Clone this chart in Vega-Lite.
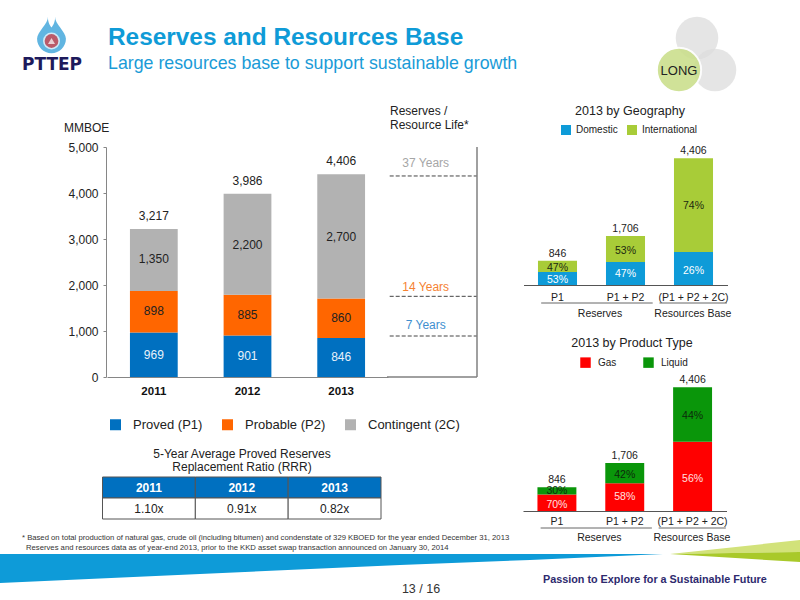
{
"$schema":"https://vega.github.io/schema/vega-lite/v6.json",
"padding":0,
"autosize":{"type":"none"},
"background":"white",
"width":800,"height":600,
"config":{"view":{"stroke":null},"font":"Liberation Sans","text":{"font":"Liberation Sans"},"axis":{"labelFont":"Liberation Sans","titleFont":"Liberation Sans"},"legend":{"labelFont":"Liberation Sans"}},
"datasets":{
"reserves":[
{"year":"2011","stage":"Proved (P1)","ord":1,"value":969,"labelAt":476},
{"year":"2011","stage":"Probable (P2)","ord":2,"value":898,"labelAt":1429},
{"year":"2011","stage":"Contingent (2C)","ord":3,"value":1350,"labelAt":2576},
{"year":"2012","stage":"Proved (P1)","ord":1,"value":901,"labelAt":455},
{"year":"2012","stage":"Probable (P2)","ord":2,"value":885,"labelAt":1342},
{"year":"2012","stage":"Contingent (2C)","ord":3,"value":2200,"labelAt":2879},
{"year":"2013","stage":"Proved (P1)","ord":1,"value":846,"labelAt":433},
{"year":"2013","stage":"Probable (P2)","ord":2,"value":860,"labelAt":1277},
{"year":"2013","stage":"Contingent (2C)","ord":3,"value":2700,"labelAt":3052}],
"reserveTotals":[{"year":"2011","total":3217},{"year":"2012","total":3986},{"year":"2013","total":4406}],
"lifeYears":[{"label":"37 Years","level":4370,"labelAt":4652},{"label":"14 Years","level":1754,"labelAt":1957},{"label":"7 Years","level":891,"labelAt":1130}],
"geo":[
{"cat":"P1","type":"Domestic","ord":1,"value":448,"pct":"53%","labelAt":174},
{"cat":"P1","type":"International","ord":2,"value":398,"pct":"47%","labelAt":603},
{"cat":"P1 + P2","type":"Domestic","ord":1,"value":802,"pct":"47%","labelAt":371},
{"cat":"P1 + P2","type":"International","ord":2,"value":904,"pct":"53%","labelAt":1194},
{"cat":"(P1 + P2 + 2C)","type":"Domestic","ord":1,"value":1146,"pct":"26%","labelAt":475},
{"cat":"(P1 + P2 + 2C)","type":"International","ord":2,"value":3260,"pct":"74%","labelAt":2760}],
"prod":[
{"cat":"P1","type":"Gas","ord":1,"value":592,"pct":"70%","labelAt":213},
{"cat":"P1","type":"Liquid","ord":2,"value":254,"pct":"30%","labelAt":698},
{"cat":"P1 + P2","type":"Gas","ord":1,"value":989,"pct":"58%","labelAt":486},
{"cat":"P1 + P2","type":"Liquid","ord":2,"value":717,"pct":"42%","labelAt":1278},
{"cat":"(P1 + P2 + 2C)","type":"Gas","ord":1,"value":2467,"pct":"56%","labelAt":1136},
{"cat":"(P1 + P2 + 2C)","type":"Liquid","ord":2,"value":1939,"pct":"44%","labelAt":3372}],
"totals":[{"cat":"P1","total":846},{"cat":"P1 + P2","total":1706},{"cat":"(P1 + P2 + 2C)","total":4406}],
"groups":[{"group":"Reserves","from":0.26,"to":1.9,"mid":1.125},{"group":"Resources Base","from":2.0,"to":2.99,"mid":2.49}],
"rrr":[
{"year":"2011","row":"head","label":"2011"},{"year":"2012","row":"head","label":"2012"},{"year":"2013","row":"head","label":"2013"},
{"year":"2011","row":"rrr","label":"1.10x"},{"year":"2012","row":"rrr","label":"0.91x"},{"year":"2013","row":"rrr","label":"0.82x"}],
"swoosh":[
{"band":"blue","x":0,"top":554,"bottom":583},{"band":"blue","x":200,"top":554,"bottom":574},{"band":"blue","x":400,"top":554,"bottom":565},{"band":"blue","x":530,"top":554,"bottom":560},{"band":"blue","x":663,"top":554,"bottom":554},
{"band":"light","x":670,"top":554,"bottom":554},{"band":"light","x":800,"top":540,"bottom":552},
{"band":"dark","x":670,"top":554,"bottom":554},{"band":"dark","x":800,"top":552,"bottom":562}],
"bubbles":[{"bubble":"top","x":697,"y":38},{"bubble":"right","x":715,"y":70}]
},
"layer":[
{"data":{"name":"swoosh"},"mark":{"type":"area","orient":"vertical"},"encoding":{
"x":{"field":"x","type":"quantitative","scale":{"domain":[0,800],"range":[0,800],"nice":false},"axis":null},
"y":{"field":"top","type":"quantitative","scale":{"domain":[0,600],"range":[0,600],"nice":false},"axis":null},
"y2":{"field":"bottom"},
"color":{"field":"band","type":"nominal","scale":{"domain":["blue","light","dark"],"range":["#0e9bd8","#d2e27a","#a9c92a"]},"legend":null}}},
{"data":{"name":"bubbles"},"mark":{"type":"point","filled":true,"size":1810,"opacity":0.75,"color":"#dcdcdc"},"encoding":{"x":{"field":"x","type":"quantitative","scale":{"domain":[0,800],"range":[0,800],"nice":false},"axis":null},"y":{"field":"y","type":"quantitative","scale":{"domain":[0,600],"range":[0,600],"nice":false},"axis":null}}},
{"data":{"values":[{}]},"mark":{"type":"point","filled":true,"size":1963,"opacity":0.9,"color":"#cbdf8d","stroke":"white","strokeWidth":2},"encoding":{"x":{"datum":679,"type":"quantitative","scale":{"domain":[0,800],"range":[0,800],"nice":false},"axis":null},"y":{"datum":70,"type":"quantitative","scale":{"domain":[0,600],"range":[0,600],"nice":false},"axis":null}}},
{"data":{"values":[{}]},"mark":{"type":"text","text":"LONG","fontSize":13,"color":"#222222"},"encoding":{"x":{"datum":679,"type":"quantitative","scale":{"domain":[0,800],"range":[0,800],"nice":false},"axis":null},"y":{"datum":71,"type":"quantitative","scale":{"domain":[0,600],"range":[0,600],"nice":false},"axis":null}}},
{"data":{"values":[{}]},"mark":{"type":"text","text":"Reserves and Resources Base","fontSize":24.4,"fontWeight":"bold","color":"#0f9bd7","align":"left","baseline":"alphabetic"},"encoding":{"x":{"datum":108,"type":"quantitative","scale":{"domain":[0,800],"range":[0,800],"nice":false},"axis":null},"y":{"datum":45,"type":"quantitative","scale":{"domain":[0,600],"range":[0,600],"nice":false},"axis":null}}},
{"data":{"values":[{}]},"mark":{"type":"text","text":"Large resources base to support sustainable growth","fontSize":17.8,"color":"#1a9bd7","align":"left","baseline":"alphabetic"},"encoding":{"x":{"datum":108,"type":"quantitative","scale":{"domain":[0,800],"range":[0,800],"nice":false},"axis":null},"y":{"datum":69,"type":"quantitative","scale":{"domain":[0,600],"range":[0,600],"nice":false},"axis":null}}},
{"data":{"values":[{}]},"mark":{"type":"point","filled":true,"size":1370,"color":"#1e96d4","shape":"M-0.2,-1 C-0.15,-0.6 -0.78,-0.2 -0.78,0.2 A0.78,0.78 0 1 0 0.78,0.2 C0.78,-0.2 0.15,-0.6 0.2,-1 C0.2,-0.7 0.08,-0.5 0,-0.4 C-0.08,-0.5 -0.2,-0.7 -0.2,-1 Z"},"encoding":{"x":{"datum":51.5,"type":"quantitative","scale":{"domain":[0,800],"range":[0,800],"nice":false},"axis":null},"y":{"datum":35,"type":"quantitative","scale":{"domain":[0,600],"range":[0,600],"nice":false},"axis":null}}},
{"data":{"values":[{}]},"mark":{"type":"point","filled":true,"size":290,"color":"#ffffff","shape":"circle"},"encoding":{"x":{"datum":51.5,"type":"quantitative","scale":{"domain":[0,800],"range":[0,800],"nice":false},"axis":null},"y":{"datum":41,"type":"quantitative","scale":{"domain":[0,600],"range":[0,600],"nice":false},"axis":null}}},
{"data":{"values":[{}]},"mark":{"type":"point","filled":true,"size":190,"color":"#b01c2e","shape":"circle"},"encoding":{"x":{"datum":51.5,"type":"quantitative","scale":{"domain":[0,800],"range":[0,800],"nice":false},"axis":null},"y":{"datum":41,"type":"quantitative","scale":{"domain":[0,600],"range":[0,600],"nice":false},"axis":null}}},
{"data":{"values":[{}]},"mark":{"type":"point","filled":true,"size":50,"color":"#ffffff","shape":"triangle-up"},"encoding":{"x":{"datum":51.5,"type":"quantitative","scale":{"domain":[0,800],"range":[0,800],"nice":false},"axis":null},"y":{"datum":41,"type":"quantitative","scale":{"domain":[0,600],"range":[0,600],"nice":false},"axis":null}}},
{"data":{"values":[{}]},"mark":{"type":"text","text":"PTTEP","fontSize":17,"fontWeight":"bold","font":"DejaVu Sans","color":"#1d1a5c"},"encoding":{"x":{"datum":52,"type":"quantitative","scale":{"domain":[0,800],"range":[0,800],"nice":false},"axis":null},"y":{"datum":65,"type":"quantitative","scale":{"domain":[0,600],"range":[0,600],"nice":false},"axis":null}}},
{"data":{"values":[{}]},"mark":{"type":"text","text":"MMBOE","fontSize":12,"color":"#222222","align":"left"},"encoding":{"x":{"datum":64,"type":"quantitative","scale":{"domain":[0,800],"range":[0,800],"nice":false},"axis":null},"y":{"datum":128,"type":"quantitative","scale":{"domain":[0,600],"range":[0,600],"nice":false},"axis":null}}},
{"data":{"values":[{}]},"mark":{"type":"text","text":"Reserves /","fontSize":12,"color":"#222222","align":"left"},"encoding":{"x":{"datum":390,"type":"quantitative","scale":{"domain":[0,800],"range":[0,800],"nice":false},"axis":null},"y":{"datum":111,"type":"quantitative","scale":{"domain":[0,600],"range":[0,600],"nice":false},"axis":null}}},
{"data":{"values":[{}]},"mark":{"type":"text","text":"Resource Life*","fontSize":12,"color":"#222222","align":"left"},"encoding":{"x":{"datum":390,"type":"quantitative","scale":{"domain":[0,800],"range":[0,800],"nice":false},"axis":null},"y":{"datum":125,"type":"quantitative","scale":{"domain":[0,600],"range":[0,600],"nice":false},"axis":null}}},
{"data":{"values":[{}]},"mark":{"type":"text","text":"2013 by Geography","fontSize":12.5,"color":"#222222"},"encoding":{"x":{"datum":630,"type":"quantitative","scale":{"domain":[0,800],"range":[0,800],"nice":false},"axis":null},"y":{"datum":111,"type":"quantitative","scale":{"domain":[0,600],"range":[0,600],"nice":false},"axis":null}}},
{"data":{"values":[{}]},"mark":{"type":"text","text":"2013 by Product Type","fontSize":12.5,"color":"#222222"},"encoding":{"x":{"datum":632,"type":"quantitative","scale":{"domain":[0,800],"range":[0,800],"nice":false},"axis":null},"y":{"datum":343,"type":"quantitative","scale":{"domain":[0,600],"range":[0,600],"nice":false},"axis":null}}},
{"data":{"values":[{}]},"mark":{"type":"text","text":"5-Year Average Proved Reserves","fontSize":12,"color":"#222222"},"encoding":{"x":{"datum":242,"type":"quantitative","scale":{"domain":[0,800],"range":[0,800],"nice":false},"axis":null},"y":{"datum":454,"type":"quantitative","scale":{"domain":[0,600],"range":[0,600],"nice":false},"axis":null}}},
{"data":{"values":[{}]},"mark":{"type":"text","text":"Replacement Ratio (RRR)","fontSize":12,"color":"#222222"},"encoding":{"x":{"datum":242,"type":"quantitative","scale":{"domain":[0,800],"range":[0,800],"nice":false},"axis":null},"y":{"datum":467,"type":"quantitative","scale":{"domain":[0,600],"range":[0,600],"nice":false},"axis":null}}},
{"data":{"values":[{}]},"mark":{"type":"text","text":"* Based on total production of natural gas, crude oil (including bitumen) and condenstate of 329 KBOED for the year ended December 31, 2013","fontSize":7.7,"align":"left","color":"#333333"},"encoding":{"x":{"datum":22,"type":"quantitative","scale":{"domain":[0,800],"range":[0,800],"nice":false},"axis":null},"y":{"datum":538,"type":"quantitative","scale":{"domain":[0,600],"range":[0,600],"nice":false},"axis":null}}},
{"data":{"values":[{}]},"mark":{"type":"text","text":"Reserves and resources data as of year-end 2013, prior to the KKD asset swap transaction announced on January 30, 2014","fontSize":7.7,"align":"left","color":"#333333"},"encoding":{"x":{"datum":26,"type":"quantitative","scale":{"domain":[0,800],"range":[0,800],"nice":false},"axis":null},"y":{"datum":548,"type":"quantitative","scale":{"domain":[0,600],"range":[0,600],"nice":false},"axis":null}}},
{"data":{"values":[{}]},"mark":{"type":"text","text":"13 / 16","fontSize":12.5,"color":"#333333"},"encoding":{"x":{"datum":421,"type":"quantitative","scale":{"domain":[0,800],"range":[0,800],"nice":false},"axis":null},"y":{"datum":589,"type":"quantitative","scale":{"domain":[0,600],"range":[0,600],"nice":false},"axis":null}}},
{"data":{"values":[{}]},"mark":{"type":"text","text":"Passion to Explore for a Sustainable Future","fontSize":10.8,"fontWeight":"bold","color":"#2e2a6e","align":"left"},"encoding":{"x":{"datum":543,"type":"quantitative","scale":{"domain":[0,800],"range":[0,800],"nice":false},"axis":null},"y":{"datum":580,"type":"quantitative","scale":{"domain":[0,600],"range":[0,600],"nice":false},"axis":null}}},

{"data":{"name":"reserves"},"mark":{"type":"bar"},"encoding":{
"x":{"field":"year","type":"nominal","scale":{"range":[107,388],"paddingInner":0.49,"paddingOuter":0.245},"axis":{"orient":"bottom","offset":-223,"title":null,"labelAngle":0,"labelFontWeight":"bold","labelFontSize":11.5,"labelColor":"#111111","ticks":false,"domainColor":"#868686","labelPadding":8}},
"y":{"field":"value","type":"quantitative","stack":"zero","scale":{"domain":[0,5000],"range":[377,147],"nice":false},"axis":{"orient":"left","offset":-106,"values":[0,1000,2000,3000,4000,5000],"format":",d","grid":false,"labelFontSize":12,"labelColor":"#222222","domainColor":"#868686","tickColor":"#868686","tickSize":3,"labelPadding":5,"title":null}},
"color":{"field":"stage","type":"nominal","scale":{"domain":["Proved (P1)","Probable (P2)","Contingent (2C)"],"range":["#0070c0","#ff6600","#b2b2b2"]},"legend":{"orient":"none","legendX":109,"legendY":418,"direction":"horizontal","columns":3,"title":null,"symbolType":"square","symbolSize":121,"symbolStrokeWidth":0,"labelFontSize":13,"labelColor":"#222222","labelOffset":11,"columnPadding":18}},
"order":{"field":"ord","type":"quantitative"}}},
{"data":{"name":"reserves"},"mark":{"type":"text","fontSize":12},"encoding":{
"x":{"field":"year","type":"nominal","scale":{"range":[107,388],"paddingInner":0.49,"paddingOuter":0.245},"axis":null},
"y":{"field":"labelAt","type":"quantitative","stack":null,"scale":{"domain":[0,5000],"range":[377,147],"nice":false},"axis":null},
"text":{"field":"value","type":"quantitative","format":","},
"color":{"field":"stage","type":"nominal","scale":{"domain":["Proved (P1)","Probable (P2)","Contingent (2C)"],"range":["#e8f2fa","#222222","#222222"]},"legend":null}}},
{"data":{"name":"reserveTotals"},"mark":{"type":"text","fontSize":12,"dy":-13,"color":"#222222"},"encoding":{
"x":{"field":"year","type":"nominal","scale":{"range":[107,388],"paddingInner":0.49,"paddingOuter":0.245},"axis":null},
"y":{"field":"total","type":"quantitative","scale":{"domain":[0,5000],"range":[377,147],"nice":false},"axis":null},
"text":{"field":"total","type":"quantitative","format":","}}},
{"data":{"name":"lifeYears"},"mark":{"type":"rule","color":"#444444","strokeDash":[4,2],"strokeWidth":1},"encoding":{
"x":{"datum":0.03,"type":"quantitative","scale":{"domain":[0,1],"range":[387,477],"nice":false},"axis":null},
"x2":{"datum":1},
"y":{"field":"level","type":"quantitative","scale":{"domain":[0,5000],"range":[377,147],"nice":false},"axis":null}}},
{"data":{"values":[{}]},"mark":{"type":"rule","color":"#808080","strokeWidth":1.5},"encoding":{
"x":{"datum":1,"type":"quantitative","scale":{"domain":[0,1],"range":[387,477],"nice":false},"axis":null},
"y":{"datum":0,"type":"quantitative","scale":{"domain":[0,5000],"range":[377,147],"nice":false},"axis":null},"y2":{"datum":5000}}},
{"data":{"values":[{}]},"mark":{"type":"rule","color":"#808080","strokeWidth":1.5},"encoding":{
"x":{"datum":0,"type":"quantitative","scale":{"domain":[0,1],"range":[387,477],"nice":false},"axis":null},"x2":{"datum":1},
"y":{"datum":0,"type":"quantitative","scale":{"domain":[0,5000],"range":[377,147],"nice":false},"axis":null}}},
{"data":{"name":"lifeYears"},"mark":{"type":"text","fontSize":12},"encoding":{
"x":{"datum":0.43,"type":"quantitative","scale":{"domain":[0,1],"range":[387,477],"nice":false},"axis":null},
"y":{"field":"labelAt","type":"quantitative","scale":{"domain":[0,5000],"range":[377,147],"nice":false},"axis":null},
"text":{"field":"label"},
"color":{"field":"label","type":"nominal","scale":{"domain":["37 Years","14 Years","7 Years"],"range":["#a6a6a6","#f58233","#3f8fcf"]},"legend":null}}},

{"data":{"name":"rrr"},"mark":{"type":"rect","stroke":"#555555","strokeWidth":1},"encoding":{
"x":{"field":"year","type":"nominal","scale":{"range":[102.5,381],"paddingInner":0,"paddingOuter":0},"axis":null},
"y":{"field":"row","type":"nominal","scale":{"domain":["head","rrr"],"range":[477,519],"paddingInner":0,"paddingOuter":0},"axis":null},
"color":{"field":"row","type":"nominal","scale":{"domain":["head","rrr"],"range":["#0070c0","#ffffff"]},"legend":null}}},
{"data":{"name":"rrr"},"transform":[{"filter":"datum.row === 'head'"}],"mark":{"type":"text","fontSize":12,"fontWeight":"bold","color":"#ffffff"},"encoding":{
"x":{"field":"year","type":"nominal","scale":{"range":[102.5,381],"paddingInner":0,"paddingOuter":0},"axis":null},
"y":{"field":"row","type":"nominal","scale":{"domain":["head","rrr"],"range":[477,519],"paddingInner":0,"paddingOuter":0},"axis":null},
"text":{"field":"label"}}},
{"data":{"name":"rrr"},"transform":[{"filter":"datum.row === 'rrr'"}],"mark":{"type":"text","fontSize":12,"color":"#222222"},"encoding":{
"x":{"field":"year","type":"nominal","scale":{"range":[102.5,381],"paddingInner":0,"paddingOuter":0},"axis":null},
"y":{"field":"row","type":"nominal","scale":{"domain":["head","rrr"],"range":[477,519],"paddingInner":0,"paddingOuter":0},"axis":null},
"text":{"field":"label"}}},

{"data":{"name":"geo"},"mark":{"type":"bar"},"encoding":{
"x":{"field":"cat","type":"nominal","sort":["P1","P1 + P2","(P1 + P2 + 2C)"],"scale":{"range":[523.5,727.5],"paddingInner":0.426,"paddingOuter":0.213},"axis":{"orient":"bottom","offset":-315,"title":null,"labelAngle":0,"labelFontSize":10.5,"labelColor":"#222222","ticks":false,"domainColor":"#555555","labelPadding":7,"labelOverlap":false}},
"y":{"field":"value","type":"quantitative","stack":"zero","scale":{"domain":[0,4406],"range":[285,158.3],"nice":false},"axis":null},
"color":{"field":"type","type":"nominal","scale":{"domain":["Domestic","International"],"range":["#0e9bd8","#a8cc38"]},"legend":{"orient":"none","legendX":561,"legendY":125,"direction":"horizontal","columns":2,"title":null,"symbolType":"square","symbolSize":100,"symbolStrokeWidth":0,"labelFontSize":10,"labelColor":"#222222","labelOffset":5,"columnPadding":9}},
"order":{"field":"ord","type":"quantitative"}}},
{"data":{"name":"geo"},"mark":{"type":"text","fontSize":10.5},"encoding":{
"x":{"field":"cat","type":"nominal","sort":["P1","P1 + P2","(P1 + P2 + 2C)"],"scale":{"range":[523.5,727.5],"paddingInner":0.426,"paddingOuter":0.213},"axis":null},
"y":{"field":"labelAt","type":"quantitative","stack":null,"scale":{"domain":[0,4406],"range":[285,158.3],"nice":false},"axis":null},
"text":{"field":"pct"},
"color":{"field":"type","type":"nominal","scale":{"domain":["Domestic","International"],"range":["#ffffff","#1c2a10"]},"legend":null}}},
{"data":{"name":"totals"},"mark":{"type":"text","fontSize":10.5,"dy":-7,"color":"#222222"},"encoding":{
"x":{"field":"cat","type":"nominal","sort":["P1","P1 + P2","(P1 + P2 + 2C)"],"scale":{"range":[523.5,727.5],"paddingInner":0.426,"paddingOuter":0.213},"axis":null},
"y":{"field":"total","type":"quantitative","scale":{"domain":[0,4406],"range":[285,158.3],"nice":false},"axis":null},
"text":{"field":"total","type":"quantitative","format":","}}},
{"data":{"name":"groups"},"mark":{"type":"rule","color":"#666666","strokeWidth":1,"yOffset":18},"encoding":{
"x":{"field":"from","type":"quantitative","scale":{"domain":[0,3],"range":[523.5,727.5],"nice":false},"axis":null},
"x2":{"field":"to"},
"y":{"datum":0,"type":"quantitative","scale":{"domain":[0,4406],"range":[285,158.3],"nice":false},"axis":null}}},
{"data":{"name":"groups"},"mark":{"type":"text","fontSize":10.5,"color":"#222222","dy":29},"encoding":{
"x":{"field":"mid","type":"quantitative","scale":{"domain":[0,3],"range":[523.5,727.5],"nice":false},"axis":null},
"y":{"datum":0,"type":"quantitative","scale":{"domain":[0,4406],"range":[285,158.3],"nice":false},"axis":null},
"text":{"field":"group"}}},

{"data":{"name":"prod"},"mark":{"type":"bar"},"encoding":{
"x":{"field":"cat","type":"nominal","sort":["P1","P1 + P2","(P1 + P2 + 2C)"],"scale":{"range":[523,726.5],"paddingInner":0.426,"paddingOuter":0.213},"axis":{"orient":"bottom","offset":-89,"title":null,"labelAngle":0,"labelFontSize":10.5,"labelColor":"#222222","ticks":false,"domainColor":"#555555","labelPadding":5,"labelOverlap":false}},
"y":{"field":"value","type":"quantitative","stack":"zero","scale":{"domain":[0,4406],"range":[511,387.3],"nice":false},"axis":null},
"color":{"field":"type","type":"nominal","scale":{"domain":["Gas","Liquid"],"range":["#ff0000","#0a960a"]},"legend":{"orient":"none","legendX":580,"legendY":357,"direction":"horizontal","columns":2,"title":null,"symbolType":"square","symbolSize":110,"symbolStrokeWidth":0,"labelFontSize":10,"labelColor":"#222222","labelOffset":7,"columnPadding":26}},
"order":{"field":"ord","type":"quantitative"}}},
{"data":{"name":"prod"},"mark":{"type":"text","fontSize":10.5},"encoding":{
"x":{"field":"cat","type":"nominal","sort":["P1","P1 + P2","(P1 + P2 + 2C)"],"scale":{"range":[523,726.5],"paddingInner":0.426,"paddingOuter":0.213},"axis":null},
"y":{"field":"labelAt","type":"quantitative","stack":null,"scale":{"domain":[0,4406],"range":[511,387.3],"nice":false},"axis":null},
"text":{"field":"pct"},
"color":{"field":"type","type":"nominal","scale":{"domain":["Gas","Liquid"],"range":["#ffe0e0","#0c2a0c"]},"legend":null}}},
{"data":{"name":"totals"},"mark":{"type":"text","fontSize":10.5,"dy":-7,"color":"#222222"},"encoding":{
"x":{"field":"cat","type":"nominal","sort":["P1","P1 + P2","(P1 + P2 + 2C)"],"scale":{"range":[523,726.5],"paddingInner":0.426,"paddingOuter":0.213},"axis":null},
"y":{"field":"total","type":"quantitative","scale":{"domain":[0,4406],"range":[511,387.3],"nice":false},"axis":null},
"text":{"field":"total","type":"quantitative","format":","}}},
{"data":{"name":"groups"},"mark":{"type":"rule","color":"#666666","strokeWidth":1,"yOffset":17},"encoding":{
"x":{"field":"from","type":"quantitative","scale":{"domain":[0,3],"range":[523,726.5],"nice":false},"axis":null},
"x2":{"field":"to"},
"y":{"datum":0,"type":"quantitative","scale":{"domain":[0,4406],"range":[511,387.3],"nice":false},"axis":null}}},
{"data":{"name":"groups"},"mark":{"type":"text","fontSize":10.5,"color":"#222222","dy":27},"encoding":{
"x":{"field":"mid","type":"quantitative","scale":{"domain":[0,3],"range":[523,726.5],"nice":false},"axis":null},
"y":{"datum":0,"type":"quantitative","scale":{"domain":[0,4406],"range":[511,387.3],"nice":false},"axis":null},
"text":{"field":"group"}}}
],
"resolve":{"scale":{"x":"independent","y":"independent","color":"independent"},"axis":{"x":"independent","y":"independent"},"legend":{"color":"independent"}}
}
